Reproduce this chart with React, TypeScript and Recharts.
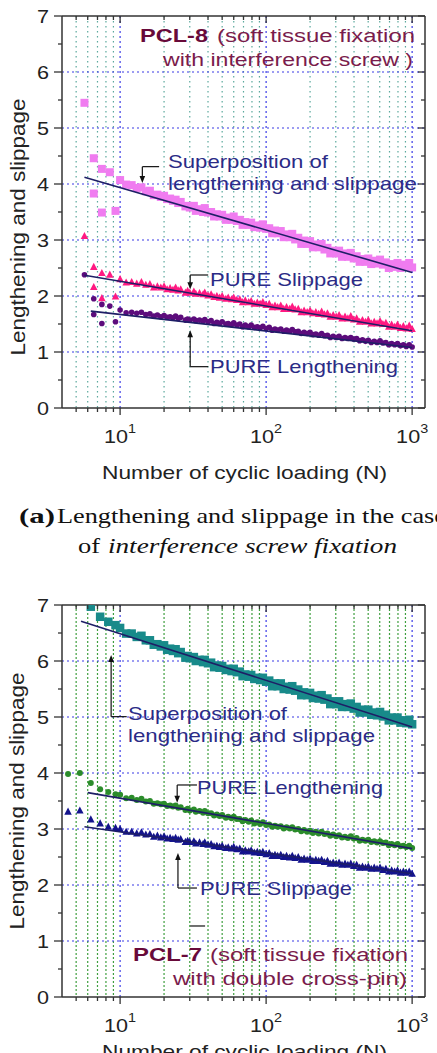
import React from "react";
import {
  ScatterChart,
  Scatter,
  XAxis,
  YAxis,
  CartesianGrid,
  ReferenceLine,
  ReferenceDot,
} from "recharts";

// cycle numbers of the dense part of every run (log spaced)
const CYCLES = [
  10, 11, 12, 13, 14, 15, 16, 17, 18, 19, 20, 21, 22, 23, 24, 25, 26, 28, 29, 30,
  32, 33, 35, 37, 38, 40, 42, 44, 46, 48, 50, 53, 55, 58, 60, 63, 66, 69, 72, 76,
  79, 83, 87, 91, 95, 100, 105, 110, 115, 120, 126, 132, 138, 145, 151, 158, 166, 174, 182, 191,
  200, 209, 219, 229, 240, 251, 263, 275, 288, 302, 316, 331, 347, 363, 380, 398, 417, 437, 457, 479,
  501, 525, 550, 575, 603, 631, 661, 692, 724, 759, 794, 832, 871, 912, 955, 1000,
];

// PCL-8, interference screw
const PCL8_SUPER = [
  4.07, 3.99, 3.98, 3.93, 3.94, 3.87, 3.88, 3.8, 3.81, 3.77, 3.79, 3.73, 3.74, 3.7, 3.72, 3.66, 3.68, 3.6, 3.61, 3.58,
  3.61, 3.52, 3.55, 3.5, 3.57, 3.49, 3.5, 3.42, 3.46, 3.42, 3.45, 3.36, 3.4, 3.36, 3.42, 3.34, 3.36, 3.27, 3.32, 3.27,
  3.31, 3.23, 3.26, 3.22, 3.28, 3.2, 3.21, 3.12, 3.17, 3.12, 3.16, 3.05, 3.1, 3.05, 3.11, 3.01, 3.04, 2.93, 2.99, 2.93,
  2.98, 2.87, 2.92, 2.87, 2.93, 2.83, 2.86, 2.76, 2.81, 2.76, 2.81, 2.7, 2.76, 2.7, 2.77, 2.67, 2.71, 2.61, 2.66, 2.61,
  2.67, 2.57, 2.63, 2.58, 2.65, 2.56, 2.6, 2.5, 2.57, 2.52, 2.59, 2.5, 2.56, 2.52, 2.59, 2.51,
];
const PCL8_SLIP = [
  2.3, 2.24, 2.25, 2.22, 2.25, 2.2, 2.21, 2.15, 2.17, 2.15, 2.17, 2.12, 2.14, 2.11, 2.15, 2.1, 2.12, 2.06, 2.09, 2.06,
  2.08, 2.04, 2.05, 2.03, 2.06, 2.01, 2.03, 1.98, 2.0, 1.97, 2.0, 1.95, 1.97, 1.94, 1.97, 1.93, 1.94, 1.89, 1.92, 1.89,
  1.91, 1.86, 1.88, 1.86, 1.89, 1.84, 1.86, 1.8, 1.83, 1.8, 1.83, 1.77, 1.8, 1.77, 1.81, 1.76, 1.77, 1.71, 1.74, 1.71,
  1.74, 1.69, 1.71, 1.68, 1.72, 1.67, 1.69, 1.63, 1.66, 1.63, 1.66, 1.6, 1.63, 1.6, 1.64, 1.58, 1.6, 1.54, 1.57, 1.54,
  1.57, 1.51, 1.54, 1.51, 1.55, 1.5, 1.52, 1.45, 1.49, 1.45, 1.49, 1.43, 1.46, 1.42, 1.47, 1.41,
];
const PCL8_LEN = [
  1.75, 1.7, 1.71, 1.69, 1.71, 1.67, 1.68, 1.64, 1.66, 1.63, 1.65, 1.62, 1.63, 1.61, 1.64, 1.6, 1.62, 1.57, 1.59, 1.57,
  1.59, 1.56, 1.57, 1.55, 1.58, 1.54, 1.56, 1.51, 1.53, 1.51, 1.54, 1.5, 1.51, 1.49, 1.52, 1.48, 1.5, 1.45, 1.48, 1.45,
  1.48, 1.44, 1.45, 1.43, 1.46, 1.42, 1.44, 1.39, 1.41, 1.39, 1.41, 1.37, 1.39, 1.37, 1.4, 1.36, 1.37, 1.33, 1.35, 1.33,
  1.35, 1.31, 1.32, 1.3, 1.33, 1.29, 1.3, 1.26, 1.28, 1.26, 1.28, 1.24, 1.26, 1.24, 1.26, 1.23, 1.24, 1.2, 1.22, 1.19,
  1.21, 1.17, 1.19, 1.17, 1.2, 1.16, 1.17, 1.13, 1.15, 1.13, 1.15, 1.11, 1.13, 1.1, 1.13, 1.09,
];
const PCL8_START_N = [5.7, 6.6, 6.6, 7.5, 7.5, 8.5, 9.3];
const PCL8_SUPER_START = [5.45, 4.46, 3.83, 4.27, 3.49, 4.21, 3.52];
const PCL8_SLIP_START = [3.07, 2.52, 2.16, 2.41, 1.96, 2.38, 1.99];
const PCL8_LEN_START = [2.38, 1.95, 1.67, 1.85, 1.51, 1.82, 1.54];

// PCL-7, double cross-pin
const PCL7_SUPER = [
  6.59, 6.49, 6.49, 6.43, 6.45, 6.37, 6.37, 6.29, 6.3, 6.26, 6.28, 6.2, 6.22, 6.18, 6.21, 6.14, 6.16, 6.06, 6.09, 6.05,
  6.07, 6.0, 6.02, 5.98, 6.02, 5.96, 5.97, 5.89, 5.92, 5.88, 5.91, 5.84, 5.86, 5.82, 5.86, 5.8, 5.81, 5.73, 5.76, 5.72,
  5.75, 5.68, 5.7, 5.66, 5.7, 5.63, 5.65, 5.55, 5.6, 5.55, 5.6, 5.5, 5.54, 5.49, 5.55, 5.47, 5.49, 5.39, 5.44, 5.39,
  5.43, 5.34, 5.38, 5.33, 5.39, 5.31, 5.33, 5.23, 5.28, 5.23, 5.28, 5.18, 5.23, 5.18, 5.24, 5.15, 5.18, 5.08, 5.13, 5.08,
  5.13, 5.04, 5.08, 5.03, 5.09, 5.01, 5.04, 4.94, 4.99, 4.94, 4.99, 4.9, 4.94, 4.89, 4.95, 4.87,
];
const PCL7_LEN = [
  3.61, 3.55, 3.56, 3.52, 3.54, 3.49, 3.5, 3.45, 3.46, 3.44, 3.45, 3.41, 3.42, 3.4, 3.42, 3.38, 3.39, 3.34, 3.36, 3.33,
  3.35, 3.31, 3.32, 3.29, 3.32, 3.28, 3.28, 3.24, 3.26, 3.23, 3.25, 3.2, 3.22, 3.19, 3.22, 3.18, 3.18, 3.14, 3.16, 3.13,
  3.15, 3.1, 3.12, 3.09, 3.12, 3.07, 3.08, 3.04, 3.06, 3.04, 3.05, 3.01, 3.03, 3.01, 3.03, 2.99, 3.0, 2.96, 2.98, 2.95,
  2.97, 2.93, 2.95, 2.92, 2.95, 2.91, 2.92, 2.88, 2.9, 2.87, 2.89, 2.85, 2.86, 2.84, 2.87, 2.83, 2.84, 2.79, 2.81, 2.79,
  2.81, 2.77, 2.78, 2.76, 2.78, 2.75, 2.76, 2.71, 2.73, 2.71, 2.73, 2.69, 2.7, 2.68, 2.7, 2.66,
];
const PCL7_SLIP = [
  3.0, 2.95, 2.95, 2.92, 2.94, 2.9, 2.91, 2.86, 2.88, 2.85, 2.87, 2.83, 2.84, 2.82, 2.84, 2.81, 2.82, 2.77, 2.79, 2.77,
  2.78, 2.74, 2.76, 2.73, 2.76, 2.72, 2.73, 2.69, 2.7, 2.68, 2.7, 2.66, 2.67, 2.65, 2.68, 2.64, 2.65, 2.6, 2.62, 2.6,
  2.62, 2.58, 2.59, 2.57, 2.59, 2.55, 2.57, 2.52, 2.54, 2.52, 2.54, 2.5, 2.52, 2.49, 2.52, 2.48, 2.5, 2.45, 2.47, 2.45,
  2.47, 2.43, 2.45, 2.43, 2.45, 2.41, 2.43, 2.38, 2.4, 2.38, 2.4, 2.36, 2.38, 2.36, 2.38, 2.34, 2.36, 2.31, 2.33, 2.31,
  2.33, 2.29, 2.31, 2.29, 2.31, 2.27, 2.29, 2.24, 2.26, 2.24, 2.26, 2.22, 2.24, 2.22, 2.24, 2.2,
];
const PCL7_START_N = [4.4, 5.3, 6.3, 7.3, 8.3, 9.3];
const PCL7_SUPER_START_N = [6.3, 7.3, 8.3, 9.3];
const PCL7_SUPER_START = [6.97, 6.79, 6.7, 6.64];
const PCL7_LEN_START = [3.98, 4.0, 3.82, 3.71, 3.66, 3.62];
const PCL7_SLIP_START = [3.31, 3.33, 3.17, 3.1, 3.04, 3.02];

// log fits (end points)
const PCL8_FIT_N = [5.7, 1000];
const PCL8_SUPER_FIT = [4.12, 2.42];
const PCL8_SLIP_FIT = [2.37, 1.38];
const PCL8_LEN_FIT_N = [6.3, 1000];
const PCL8_LEN_FIT = [1.73, 1.08];
const PCL7_SUPER_FIT_N = [5.4, 1000];
const PCL7_SUPER_FIT = [6.71, 4.82];
const PCL7_LEN_FIT_N = [6.0, 1000];
const PCL7_LEN_FIT = [3.65, 2.65];
const PCL7_SLIP_FIT_N = [5.7, 1000];
const PCL7_SLIP_FIT = [3.04, 2.2];

const X_TICKS = [5, 6, 7, 8, 9, 10, 20, 30, 40, 50, 60, 70, 80, 90, 100, 200, 300, 400, 500, 600, 700, 800, 900, 1000];
const DECADES = [10, 100, 1000];
const MINOR_X = X_TICKS.filter((v) => !DECADES.includes(v));
const Y_TICKS = [0, 0.5, 1, 1.5, 2, 2.5, 3, 3.5, 4, 4.5, 5, 5.5, 6, 6.5, 7];
const Y_GRID = [1, 2, 3, 4, 5, 6];

const X_DOMAIN: [number, number] = [4, 1225];
const SANS = "'Liberation Sans', Arial, sans-serif";
const SERIF = "'Liberation Serif', 'Times New Roman', serif";
const AXIS = "#333";
const FIT = "#1e1e66";
const NOTE = "#2b2b86";
const PCL_C = "#7a1c4c";
const PCL_B = "#680a3a";
const BLUE_GRID = "#3a3ae6";

const pts = (xs: number[], ys: number[]) => xs.map((x, i) => ({ x, y: ys[i] }));

const square = (c: string, s = 8) => (p: any) =>
  <rect x={p.cx - s / 2} y={p.cy - s / 2} width={s} height={s} fill={c} />;
const triangle = (c: string, s = 7.5) => (p: any) =>
  <path d={`M${p.cx},${p.cy - s * 0.55}L${p.cx + s / 2},${p.cy + s * 0.4}L${p.cx - s / 2},${p.cy + s * 0.4}Z`} fill={c} />;
const circle = (c: string, r = 2.8) => (p: any) => <circle cx={p.cx} cy={p.cy} r={r} fill={c} />;
const noMark = () => <g />;
const arrowDown = (p: any) => <path d={`M${p.cx},${p.cy}l-2.8,-7h5.6z`} fill="#111" />;
const arrowUp = (p: any) => <path d={`M${p.cx},${p.cy}l-2.8,7h5.6z`} fill="#111" />;

const BottomTick = (p: any) => {
  const v = p.payload.value;
  const major = DECADES.includes(v);
  return (
    <g>
      <line x1={p.x} x2={p.x} y1={p.y} y2={p.y + (major ? 7 : 4)} stroke={AXIS} strokeWidth={1.3} />
      {major && (
        <g transform={`translate(${p.x},${p.y + 35}) scale(1.2,1)`}>
          <text x={0} y={0} textAnchor="middle" fontFamily={SANS} fontSize={18} fill="#222">
            10
            <tspan dy={-10} fontSize={12}>
              {Math.round(Math.log10(v))}
            </tspan>
          </text>
        </g>
      )}
    </g>
  );
};

const TopTick = (p: any) => {
  const major = DECADES.includes(p.payload.value);
  return <line x1={p.x} x2={p.x} y1={p.y} y2={p.y + (major ? 7 : 4)} stroke={AXIS} strokeWidth={1.3} />;
};

const LeftTick = (p: any) => {
  const v = p.payload.value;
  const major = Number.isInteger(v);
  return (
    <g>
      <line x1={p.x - (major ? 8 : 4)} x2={p.x} y1={p.y} y2={p.y} stroke={AXIS} strokeWidth={1.3} />
      {major && (
        <g transform={`translate(${p.x - 13},${p.y + 6.5}) scale(1.2,1)`}>
          <text x={0} y={0} textAnchor="end" fontFamily={SANS} fontSize={18} fill="#222">
            {v}
          </text>
        </g>
      )}
    </g>
  );
};

const RightTick = (p: any) => {
  const major = Number.isInteger(p.payload.value);
  return <line x1={p.x - (major ? 7 : 4)} x2={p.x} y1={p.y} y2={p.y} stroke={AXIS} strokeWidth={1.3} />;
};

interface Series {
  data: { x: number; y: number }[];
  shape: (p: any) => React.ReactElement;
}

interface Bracket {
  segs: [number, number, number, number][];
  arrows: { x: number; y: number; up: boolean }[];
}

function Panel({ series, fits, minorColor, minorDash, brackets }: {
  series: Series[];
  fits: { x: number; y: number }[][];
  minorColor: string;
  minorDash: string;
  brackets: Bracket;
}) {
  const axisLine = { stroke: AXIS, strokeWidth: 1.5 };
  return (
    <ScatterChart width={437} height={464} margin={{ top: 0, right: 0, bottom: 0, left: 0 }}>
      <XAxis
        xAxisId="t"
        orientation="top"
        type="number"
        dataKey="x"
        scale="log"
        domain={X_DOMAIN}
        ticks={X_TICKS}
        interval={0}
        height={16}
        tickSize={0}
        tickMargin={0}
        tickLine={false}
        tick={TopTick}
        axisLine={axisLine}
        allowDataOverflow
      />
      <XAxis
        type="number"
        dataKey="x"
        scale="log"
        domain={X_DOMAIN}
        ticks={X_TICKS}
        interval={0}
        height={56}
        tickSize={0}
        tickMargin={0}
        tickLine={false}
        tick={BottomTick}
        axisLine={axisLine}
        allowDataOverflow
      />
      <YAxis
        type="number"
        dataKey="y"
        domain={[0, 7]}
        ticks={Y_TICKS}
        interval={0}
        width={62}
        tickSize={0}
        tickMargin={0}
        tickLine={false}
        tick={LeftTick}
        axisLine={axisLine}
        allowDataOverflow
      />
      <YAxis
        yAxisId="r"
        orientation="right"
        type="number"
        dataKey="y"
        domain={[0, 7]}
        ticks={Y_TICKS}
        interval={0}
        width={12}
        tickSize={0}
        tickMargin={0}
        tickLine={false}
        tick={RightTick}
        axisLine={axisLine}
        allowDataOverflow
      />
      <CartesianGrid horizontal={false} verticalValues={MINOR_X} stroke={minorColor} strokeDasharray={minorDash} strokeWidth={1.2} />
      <CartesianGrid horizontalValues={Y_GRID} verticalValues={DECADES} stroke={BLUE_GRID} strokeDasharray="2 3" strokeWidth={1.2} />
      {series.map((s, i) => (
        <Scatter key={i} data={s.data} shape={s.shape} isAnimationActive={false} />
      ))}
      {fits.map((f, i) => (
        <Scatter key={"f" + i} data={f} line={{ stroke: FIT, strokeWidth: 1.6 }} shape={noMark} isAnimationActive={false} />
      ))}
      {brackets.segs.map((s, i) => (
        <ReferenceLine
          key={"b" + i}
          segment={[{ x: s[0], y: s[1] }, { x: s[2], y: s[3] }]}
          stroke="#111"
          strokeWidth={1.2}
          ifOverflow="visible"
        />
      ))}
      {brackets.arrows.map((a, i) => (
        <ReferenceDot key={"a" + i} x={a.x} y={a.y} shape={a.up ? arrowUp : arrowDown} ifOverflow="visible" />
      ))}
    </ScatterChart>
  );
}

const T = ({ x, y, w, size = 19, fill = NOTE, bold, italic, family = SANS, children, transform, anchor }: any) => (
  <text
    x={x}
    y={y}
    textLength={w}
    lengthAdjust="spacingAndGlyphs"
    fontSize={size}
    fill={fill}
    fontFamily={family}
    fontWeight={bold ? "bold" : "normal"}
    fontStyle={italic ? "italic" : "normal"}
    transform={transform}
    textAnchor={anchor}
  >
    {children}
  </text>
);

export default function App() {
  const top8: Bracket = {
    segs: [
      [14.2, 4.31, 18.5, 4.31],
      [14.2, 4.31, 14.2, 4.1],
      [30.2, 2.375, 40.1, 2.375],
      [30.2, 2.375, 30.2, 2.2],
      [30.2, 0.738, 40.1, 0.738],
      [30.2, 0.738, 30.2, 1.3],
    ],
    arrows: [
      { x: 14.2, y: 4.02, up: false },
      { x: 30.2, y: 2.12, up: false },
      { x: 30.2, y: 1.39, up: true },
    ],
  };
  const bot7: Bracket = {
    segs: [
      [8.68, 5.006, 11.1, 5.006],
      [8.68, 5.006, 8.68, 6.0],
      [24.6, 3.786, 33.6, 3.786],
      [24.6, 3.786, 24.6, 3.55],
      [24.9, 1.946, 33.6, 1.946],
      [24.9, 1.946, 24.9, 2.48],
      [30.2, 1.268, 38.2, 1.268],
    ],
    arrows: [
      { x: 8.68, y: 6.107, up: true },
      { x: 24.6, y: 3.47, up: false },
      { x: 24.9, y: 2.57, up: true },
    ],
  };

  const pcl8: Series[] = [
    { data: [...pts(PCL8_START_N, PCL8_SUPER_START), ...pts(CYCLES, PCL8_SUPER)], shape: square("#f07cf0") },
    { data: [...pts(PCL8_START_N, PCL8_SLIP_START), ...pts(CYCLES, PCL8_SLIP)], shape: triangle("#ff1a82") },
    { data: [...pts(PCL8_START_N, PCL8_LEN_START), ...pts(CYCLES, PCL8_LEN)], shape: circle("#5c0c7c") },
  ];
  const pcl7: Series[] = [
    { data: [...pts(PCL7_SUPER_START_N, PCL7_SUPER_START), ...pts(CYCLES, PCL7_SUPER)], shape: square("#188a8a", 8.5) },
    { data: [...pts(PCL7_START_N, PCL7_LEN_START), ...pts(CYCLES, PCL7_LEN)], shape: circle("#2b8c2b", 3) },
    { data: [...pts(PCL7_START_N, PCL7_SLIP_START), ...pts(CYCLES, PCL7_SLIP)], shape: triangle("#14148c") },
  ];

  return (
    <div style={{ position: "absolute", left: 0, top: 0, width: 437, height: 1053, overflow: "hidden", background: "#fff" }}>
      <div style={{ position: "absolute", left: 0, top: 0 }}>
        <Panel
          series={pcl8}
          fits={[
            pts(PCL8_FIT_N, PCL8_SUPER_FIT),
            pts(PCL8_FIT_N, PCL8_SLIP_FIT),
            pts(PCL8_LEN_FIT_N, PCL8_LEN_FIT),
          ]}
          minorColor="#5aa89c"
          minorDash="1.5 3.5"
          brackets={top8}
        />
      </div>
      <div style={{ position: "absolute", left: 0, top: 589 }}>
        <Panel
          series={pcl7}
          fits={[
            pts(PCL7_SUPER_FIT_N, PCL7_SUPER_FIT),
            pts(PCL7_LEN_FIT_N, PCL7_LEN_FIT),
            pts(PCL7_SLIP_FIT_N, PCL7_SLIP_FIT),
          ]}
          minorColor="#3f9f3f"
          minorDash="2 2"
          brackets={bot7}
        />
      </div>
      <svg width={437} height={1053} style={{ position: "absolute", left: 0, top: 0, pointerEvents: "none" }}>
        {/* panel (a) */}
        <T x={140} y={42} w={68} size={17.5} fill={PCL_B} bold>PCL-8</T>
        <T x={217} y={42} w={198} size={17.5} fill={PCL_C}>(soft tissue fixation</T>
        <T x={163} y={66} w={250} size={17.5} fill={PCL_C}>with interference screw )</T>
        <T x={168} y={168} w={160}>Superposition of</T>
        <T x={168} y={190} w={249}>lengthening and slippage</T>
        <T x={210} y={286} w={153}>PURE Slippage</T>
        <T x={210} y={373} w={188}>PURE Lengthening</T>
        <T x={0} y={0} w={257} size={20} fill="#222" anchor="middle" transform="translate(25,227) rotate(-90)">
          Lengthening and slippage
        </T>
        <T x={102} y={479} w={285} size={18.5} fill="#222">Number of cyclic loading (N)</T>
        <T x={19} y={523} w={36} size={22} fill="#111" bold family={SERIF}>(a)</T>
        <T x={57} y={523} w={389} size={22} fill="#111" family={SERIF}>Lengthening and slippage in the case</T>
        <T x={78} y={553} w={22} size={22} fill="#111" family={SERIF}>of</T>
        <T x={108} y={553} w={289} size={22} fill="#111" italic family={SERIF}>interference screw fixation</T>

        {/* panel (b) */}
        <T x={128} y={720} w={159}>Superposition of</T>
        <T x={128} y={742} w={247}>lengthening and slippage</T>
        <T x={197} y={794} w={186}>PURE Lengthening</T>
        <T x={200} y={895} w={152}>PURE Slippage</T>
        <T x={133} y={961} w={69} size={17.5} fill={PCL_B} bold>PCL-7</T>
        <T x={210} y={961} w={198} size={17.5} fill={PCL_C}>(soft tissue fixation</T>
        <T x={173} y={985} w={234} size={17.5} fill={PCL_C}>with double cross-pin)</T>
        <T x={0} y={0} w={257} size={20} fill="#222" anchor="middle" transform="translate(24,801) rotate(-90)">
          Lengthening and slippage
        </T>
        <T x={102} y={1058} w={285} size={18.5} fill="#222">Number of cyclic loading (N)</T>
      </svg>
    </div>
  );
}
